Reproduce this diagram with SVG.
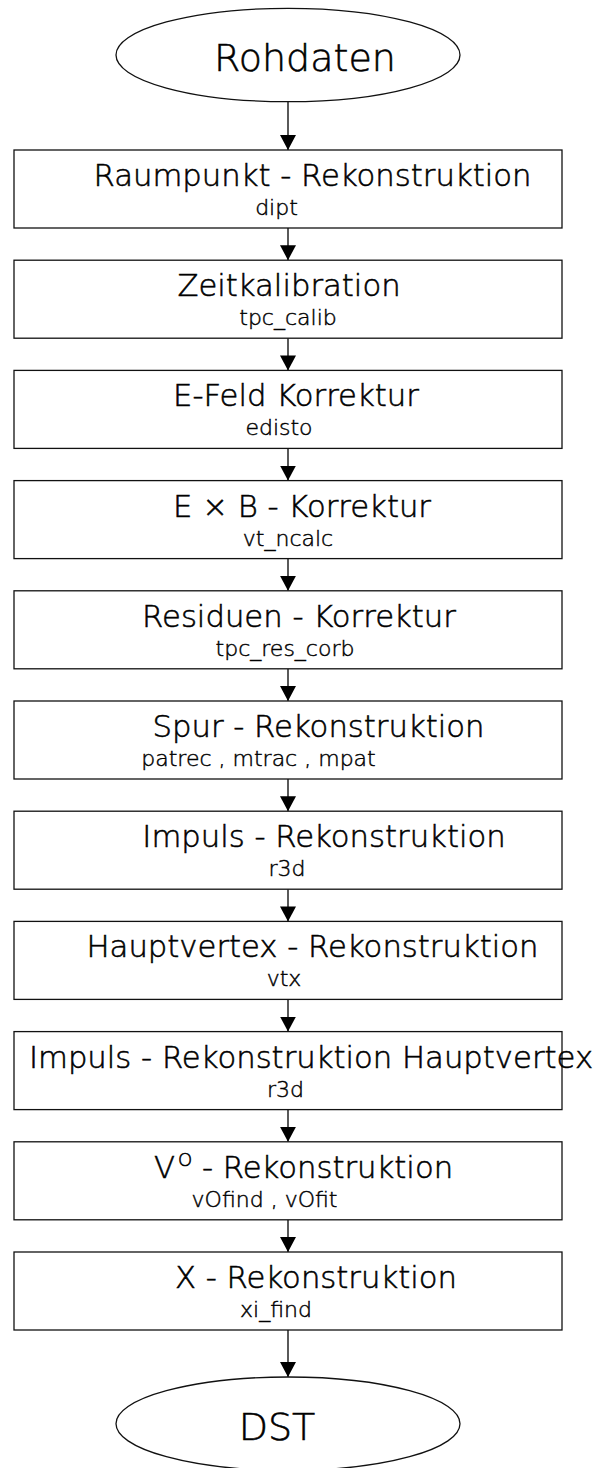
<svg xmlns="http://www.w3.org/2000/svg" width="602" height="1468" viewBox="0 0 602 1468">
<style>
.bg{fill:#fff}
.box{fill:#fff;stroke:#111;stroke-width:1.3}
.ell{fill:#fff;stroke:#111;stroke-width:1.3}
.t{font-family:"DejaVu Sans",sans-serif;font-weight:200;fill:#000;stroke:#000;stroke-width:0.55}
.big{font-size:38px;text-anchor:middle}
.main{font-size:30.7px;text-anchor:middle}
.sub{font-size:22px;text-anchor:middle;stroke-width:0.45}
.sup{font-size:18px}
.conn line{stroke:#000;stroke-width:1.3;marker-end:url(#ah)}
</style>
<defs>
<marker id="ah" markerWidth="16" markerHeight="16" refX="15" refY="8" orient="auto" markerUnits="userSpaceOnUse">
<path d="M0,0 L15,8 L0,16 z" fill="#000"/>
</marker>
</defs>
<rect class="bg" x="0" y="0" width="602" height="1468"/>
<g class="conn" id="connectors">
<line x1="288" y1="102" x2="288" y2="150"/>
<line x1="288" y1="228" x2="288" y2="260.2"/>
<line x1="288" y1="338.2" x2="288" y2="370.4"/>
<line x1="288" y1="448.4" x2="288" y2="480.6"/>
<line x1="288" y1="558.6" x2="288" y2="590.8"/>
<line x1="288" y1="668.8" x2="288" y2="701"/>
<line x1="288" y1="779" x2="288" y2="811.2"/>
<line x1="288" y1="889.2" x2="288" y2="921.4"/>
<line x1="288" y1="999.4" x2="288" y2="1031.6"/>
<line x1="288" y1="1109.6" x2="288" y2="1141.8"/>
<line x1="288" y1="1219.8" x2="288" y2="1252"/>
<line x1="288" y1="1330" x2="288" y2="1377"/>
</g>
<g id="rohdaten">
<ellipse class="ell" cx="288" cy="55" rx="172" ry="46.7"/>
<text class="t big" x="305" y="71">Rohdaten</text>
</g>
<g id="raumpunkt">
<rect class="box" x="14" y="150" width="548" height="78"/>
<text class="t main" x="312.5" y="186">Raumpunkt - Rekonstruktion</text>
<text class="t sub" x="276.5" y="215">dipt</text>
</g>
<g id="zeitkalibration">
<rect class="box" x="14" y="260.2" width="548" height="78"/>
<text class="t main" x="289" y="296.2">Zeitkalibration</text>
<text class="t sub" x="288" y="325.2">tpc_calib</text>
</g>
<g id="efeld">
<rect class="box" x="14" y="370.4" width="548" height="78"/>
<text class="t main" x="296" y="406.4">E-Feld Korrektur</text>
<text class="t sub" x="279" y="435.4">edisto</text>
</g>
<g id="exb">
<rect class="box" x="14" y="480.6" width="548" height="78"/>
<text class="t main" x="302" y="516.6">E × B - Korrektur</text>
<text class="t sub" x="288" y="545.6">vt_ncalc</text>
</g>
<g id="residuen">
<rect class="box" x="14" y="590.8" width="548" height="78"/>
<text class="t main" x="299" y="626.8">Residuen - Korrektur</text>
<text class="t sub" x="285" y="655.8">tpc_res_corb</text>
</g>
<g id="spur">
<rect class="box" x="14" y="701" width="548" height="78"/>
<text class="t main" x="318.5" y="737">Spur - Rekonstruktion</text>
<text class="t sub" x="258.5" y="766">patrec , mtrac , mpat</text>
</g>
<g id="impuls">
<rect class="box" x="14" y="811.2" width="548" height="78"/>
<text class="t main" x="324" y="847.2">Impuls - Rekonstruktion</text>
<text class="t sub" x="287" y="876.2">r3d</text>
</g>
<g id="hauptvertex">
<rect class="box" x="14" y="921.4" width="548" height="78"/>
<text class="t main" x="312.5" y="957.4">Hauptvertex - Rekonstruktion</text>
<text class="t sub" x="284" y="986.4">vtx</text>
</g>
<g id="impuls-hv">
<rect class="box" x="14" y="1031.6" width="548" height="78"/>
<text class="t main" x="311" y="1067.6">Impuls - Rekonstruktion Hauptvertex</text>
<text class="t sub" x="285.5" y="1096.6">r3d</text>
</g>
<g id="v0">
<rect class="box" x="14" y="1141.8" width="548" height="78"/>
<text class="t main" x="154" y="1177.8" style="text-anchor:start">V<tspan class="sup" dy="-12" dx="3">O</tspan><tspan dy="12"> - Rekonstruktion</tspan></text>
<text class="t sub" x="264.5" y="1206.8">vOfind , vOfit</text>
</g>
<g id="xi">
<rect class="box" x="14" y="1252" width="548" height="78"/>
<text class="t main" x="316" y="1288">X - Rekonstruktion</text>
<text class="t sub" x="276" y="1317">xi_find</text>
</g>
<g id="dst">
<ellipse class="ell" cx="288" cy="1423.7" rx="172" ry="46.7"/>
<text class="t big" x="277" y="1440">DST</text>
</g>
</svg>
